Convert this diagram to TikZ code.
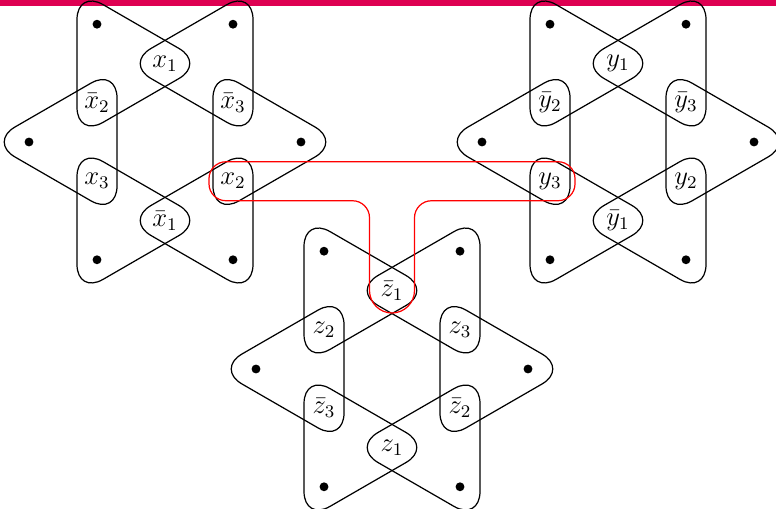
\documentclass[tikz,border=0pt]{standalone}
\usepackage{amsmath,amssymb}
\usetikzlibrary{calc}

\definecolor{barcol}{RGB}{222,0,82}

% #1 prefix, #2 centre, #3--#8 labels of the inner vertices at 30,90,...,330 degrees
\newcommand{\hexgadget}[8]{%
  \foreach \a in {0,60,...,300} {\node[dot] (#1t\a) at ($#2+(\a:136)$) {};}
  \node[lit] (#130) at ($#2+(30:78.5)$) {$#3$};
  \node[lit] (#190) at ($#2+(90:78.5)$) {$#4$};
  \node[lit] (#1150) at ($#2+(150:78.5)$) {$#5$};
  \node[lit] (#1210) at ($#2+(210:78.5)$) {$#6$};
  \node[lit] (#1270) at ($#2+(270:78.5)$) {$#7$};
  \node[lit] (#1330) at ($#2+(330:78.5)$) {$#8$};
  \foreach \a in {0,60,...,300} {
    \pgfmathtruncatemacro\ap{mod(\a+30,360)}
    \pgfmathtruncatemacro\am{mod(\a+330,360)}
    \draw[hedge] ($(#1t\a)+(\a:40)$) -- ($(#1\ap)+(\a+120:40)$) -- ($(#1\am)+(\a-120:40)$) -- cycle;
  }%
}

\begin{document}
\begin{tikzpicture}[x=0.45pt, y=0.45pt, every node/.style={font=\large},
  dot/.style={circle, fill=black, minimum size=4pt, inner sep=0pt},
  lit/.style={inner sep=0pt},
  hedge/.style={draw=black, line width=0.55pt, rounded corners=13.5pt},
  redge/.style={draw=red, line width=0.55pt}]
  \useasboundingbox (0,0) rectangle (776,509);
  \fill[barcol] (0,503) rectangle (776,509);

  \hexgadget{x}{(165,367)}{\bar{x}_3}{x_1}{\bar{x}_2}{x_3}{\bar{x}_1}{x_2}
  \hexgadget{y}{(618,367)}{\bar{y}_3}{y_1}{\bar{y}_2}{y_3}{\bar{y}_1}{y_2}
  \hexgadget{z}{(392,140)}{z_3}{\bar{z}_1}{z_2}{\bar{z}_3}{z_1}{\bar{z}_2}

  % the edge through x_2, y_3 and \bar z_1
  \coordinate (rt) at ($(y210)+(25,-19.5)$);
  \coordinate (zr) at ($(z90)+(22.5,0)$);
  \coordinate (zl) at ($(z90)+(-22.5,0)$);
  \coordinate (cr) at (zr |- rt);
  \coordinate (cl) at (zl |- rt);
  \draw[redge] ($(x330)+(-7,19.5)$) -- ($(y210)+(8,19.5)$)
    arc[start angle=90, end angle=0, radius=17] -- ($(y210)+(25,-2.5)$)
    arc[start angle=0, end angle=-90, radius=17] -- ($(cr)+(17,0)$)
    arc[start angle=90, end angle=180, radius=17] -- (zr)
    arc[start angle=0, end angle=-180, radius=22.5] -- ($(cl)+(0,-17)$)
    arc[start angle=0, end angle=90, radius=17] -- ($(x330)+(-7,-19.5)$)
    arc[start angle=-90, end angle=-180, radius=17] -- ($(x330)+(-24,2.5)$)
    arc[start angle=180, end angle=90, radius=17] -- cycle;
\end{tikzpicture}
\end{document}
